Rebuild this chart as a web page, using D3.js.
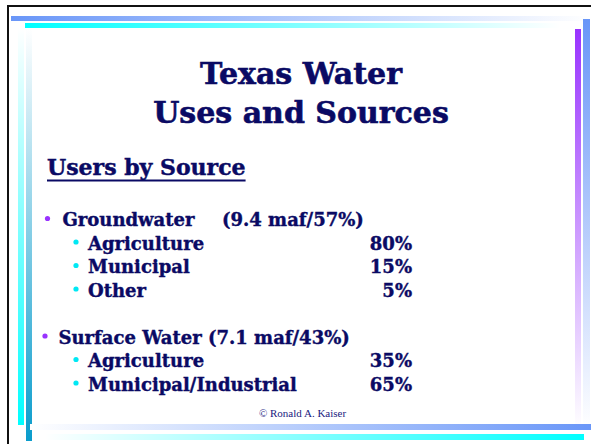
<!DOCTYPE html>
<html>
<head>
<meta charset="utf-8">
<script src="https://cdn.jsdelivr.net/npm/d3@7"></script>
<style>
  body { margin: 0; background: #fff; }
  svg { display: block; }
</style>
</head>
<body>
<svg width="591" height="444"></svg>
<script>
var titleLines = ["Texas Water", "Uses and Sources"];
var heading = "Users by Source";
var groupLabels = ["Groundwater", "Surface Water"];
var groupAmounts = ["(9.4 maf/57%)", "(7.1 maf/43%)"];
var subLabels = [["Agriculture", "Municipal", "Other"], ["Agriculture", "Municipal/Industrial"]];
var subShares = [[80, 15, 5], [35, 65]];
var credit = "\u00a9 Ronald A. Kaiser";

var svg = d3.select("svg");
var navy = "#0a0a64";
var serif = "'DejaVu Serif', serif";

var defs = svg.append("defs");
function grad(id, x2, y2, c1, c2) {
    var g = defs.append("linearGradient").attr("id", id)
        .attr("x1", 0).attr("y1", 0).attr("x2", x2).attr("y2", y2);
    g.append("stop").attr("offset", "0%").attr("stop-color", c1);
    g.append("stop").attr("offset", "100%").attr("stop-color", c2);
}
grad("gBlueR", 1, 0, "#6996f8", "#ffffff");
grad("gCyanR", 1, 0, "#00ffff", "#ffffff");
grad("gBlueL", 1, 0, "#ffffff", "#6996f8");
grad("gCyanL", 1, 0, "#ffffff", "#00ffff");
grad("gCyanUp", 0, 1, "#ffffff", "#00ffff");
grad("gTealUp", 0, 1, "#ffffff", "#0a9ccc");
grad("gPurpDown", 0, 1, "#9933ff", "#ffffff");
grad("gBlueDown", 0, 1, "#6996f8", "#ffffff");

// decorative bars of the slide frame
var bars = [
    [11, 16, 580, 5, "gBlueR"],
    [25, 23, 535, 5, "gCyanR"],
    [18, 28, 6, 397, "gCyanUp"],
    [26, 28, 6, 413, "gTealUp"],
    [575, 29, 6, 400, "gPurpDown"],
    [583, 19, 7, 410, "gBlueDown"],
    [30, 424, 561, 6, "gBlueL"],
    [45, 434, 539, 6, "gCyanL"]
];
svg.selectAll("rect.bar").data(bars).enter().append("rect")
    .attr("class", "bar")
    .attr("x", d => d[0]).attr("y", d => d[1])
    .attr("width", d => d[2]).attr("height", d => d[3])
    .attr("fill", d => "url(#" + d[4] + ")");

svg.append("path")
    .attr("d", "M8,450V6H600")
    .attr("fill", "none").attr("stroke", "#111").attr("stroke-width", 2);

// title
svg.selectAll("text.title").data(titleLines).enter().append("text")
    .attr("class", "title")
    .attr("x", 301).attr("y", (d, i) => 84 + i * 38.7)
    .attr("text-anchor", "middle")
    .style("font-family", serif).style("font-weight", "bold")
    .style("font-size", "30px").style("fill", navy)
    .style("stroke", navy).style("stroke-width", 0.6)
    .text(d => d);

var head = svg.append("text")
    .attr("x", 47).attr("y", 175)
    .style("font-family", serif).style("font-weight", "bold")
    .style("font-size", "22px").style("fill", navy)
    .style("stroke", navy).style("stroke-width", 0.45)
    .text(heading);
var hw = head.node().getComputedTextLength();
svg.append("line")
    .attr("x1", 47).attr("x2", 47 + hw)
    .attr("y1", 180.5).attr("y2", 180.5)
    .attr("stroke", navy).attr("stroke-width", 2);

// rows: one per group header and item, with an empty row between groups
var rows = [];
groupLabels.forEach(function(g, gi) {
    rows.push({type: "group", gi: gi});
    subLabels[gi].forEach(function(s, si) {
        rows.push({type: "item", gi: gi, si: si});
    });
    if (gi < groupLabels.length - 1) rows.push({type: "gap"});
});
var y = d3.scaleLinear().domain([0, rows.length - 1]).range([226, 226 + (rows.length - 1) * 23.5]);
rows.forEach((r, i) => r.row = i);
var shown = rows.filter(r => r.type != "gap");

var body = svg.append("g")
    .style("font-family", serif).style("font-weight", "bold")
    .style("font-size", "18px").style("fill", navy);

body.selectAll("circle").data(shown).enter().append("circle")
    .attr("cx", d => d.type == "group" ? (d.gi == 0 ? 47.5 : 45) : 76)
    .attr("cy", d => y(d.row) - 7.5)
    .attr("r", 2.6)
    .style("fill", d => d.type == "group" ? "#9933ff" : "#00e8f4");

var texts = svg.append("g")
    .style("font-family", serif).style("font-weight", "bold")
    .style("font-size", "18px").style("fill", navy)
    .style("stroke", navy).style("stroke-width", 0.4);

var groupText = texts.selectAll("text.group").data(shown.filter(d => d.type == "group"))
    .enter().append("text").attr("class", "group")
    .attr("x", d => d.gi == 0 ? 62.5 : 58.5)
    .attr("y", d => y(d.row));
groupText.append("tspan").text(d => groupLabels[d.gi]);
groupText.append("tspan")
    .attr("x", d => d.gi == 0 ? 222 : null)
    .text(d => (d.gi == 0 ? "" : " ") + groupAmounts[d.gi]);

var items = shown.filter(d => d.type == "item");
texts.selectAll("text.item").data(items).enter().append("text")
    .attr("class", "item")
    .attr("x", 88).attr("y", d => y(d.row))
    .text(d => subLabels[d.gi][d.si]);
texts.selectAll("text.share").data(items).enter().append("text")
    .attr("class", "share")
    .attr("x", 412).attr("y", d => y(d.row))
    .attr("text-anchor", "end")
    .text(d => subShares[d.gi][d.si] + "%");

svg.append("text")
    .attr("x", 302.5).attr("y", 416.7)
    .attr("text-anchor", "middle")
    .style("font-family", "'Liberation Serif', serif")
    .style("font-size", "11px").style("fill", "#1a1a80")
    .text(credit);
</script>
</body>
</html>
